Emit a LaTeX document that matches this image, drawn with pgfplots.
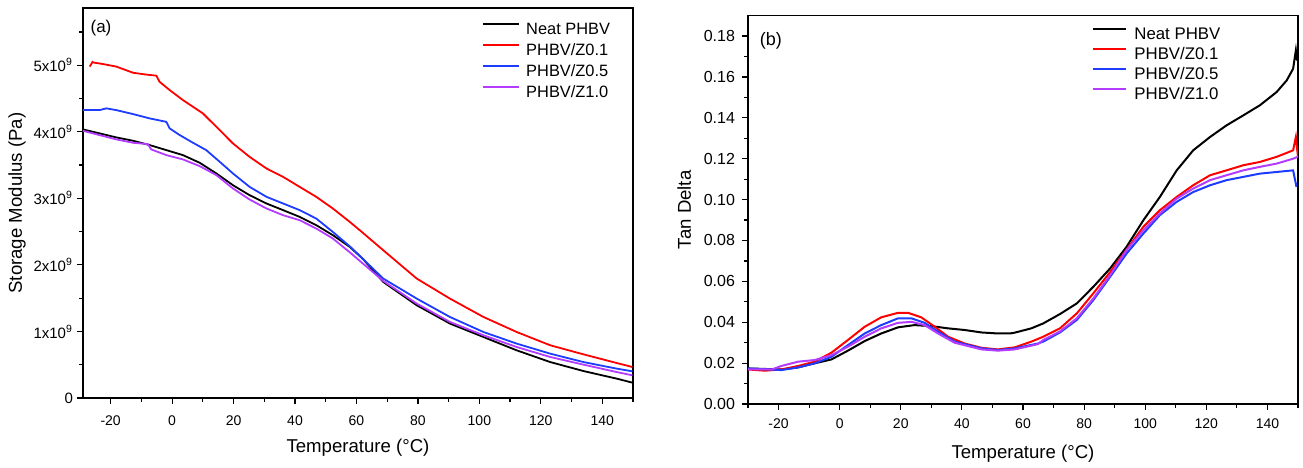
\documentclass[border=0pt]{standalone}
\usepackage{fontspec}
\setmainfont{Liberation Sans}
\usepackage{pgfplots}
\pgfplotsset{compat=1.18}
\definecolor{cblue}{RGB}{30,60,255}
\definecolor{cpurple}{RGB}{180,60,255}
\pgfplotsset{
  dma/.style={
    scale only axis,
    scaled x ticks=false, scaled y ticks=false,
    axis line style={line width=0.7pt},
    tick align=outside, tick pos=left,
    major tick length=3pt, minor tick length=1.8pt,
    every tick/.append style={black, line width=0.6pt},
    every minor tick/.append style={black, line width=0.6pt},
    xlabel style={font=\fontsize{9.3}{11}\selectfont, at={(axis description cs:0.5,-0.128)}, anchor=center},
    ylabel style={font=\fontsize{9.3}{11}\selectfont, anchor=center},
    legend image code/.code={\draw[##1] (0pt,2.8pt) -- (18pt,2.8pt);},
    legend cell align=left,
  }
}
\begin{document}
\begin{tikzpicture}
\path[use as bounding box] (-41.5pt,-34.5pt) rectangle (610pt,199pt);
% ---------------- (a) ----------------
\begin{axis}[dma,
  at={(0pt,0pt)}, anchor=south west,
  width=275pt, height=195pt,
  xmin=-29, xmax=150, ymin=0, ymax=5.86e9,
  xtick={-20,0,20,40,60,80,100,120,140},
  xticklabels={-20,0,20,40,60,80,100,120,140},
  minor xtick={-10,10,30,50,70,90,110,130,150},
  ytick={0,1e9,2e9,3e9,4e9,5e9},
  yticklabels={0,1x10\textsuperscript{9},2x10\textsuperscript{9},3x10\textsuperscript{9},4x10\textsuperscript{9},5x10\textsuperscript{9}},
  minor ytick={0.5e9,1.5e9,2.5e9,3.5e9,4.5e9,5.5e9},
  x tick label style={font=\fontsize{7}{8}\selectfont, yshift=-2.5pt},
  y tick label style={font=\fontsize{7.5}{8}\selectfont, xshift=1.5pt},
  xlabel={Temperature (°C)},
  ylabel={Storage Modulus (Pa)},
  ylabel style={at={(axis description cs:-0.12,0.5)}},
  legend style={draw=none, fill=none, inner sep=0pt, row sep=0pt, column sep=3pt,
    at={(axis description cs:0.7255,0.9723)}, anchor=north west,
    font=\fontsize{8.2}{9}\selectfont,
    nodes={inner xsep=0pt, inner ysep=0pt, text height=7.5pt, text depth=3pt}},
]
\addplot[black, line width=0.9pt] coordinates {
(-29,4.036e9)(-23.6,3.976e9)(-18.2,3.916e9)(-12.7,3.865e9)(-7.3,3.800e9)(-1.9,3.725e9)
(3.5,3.650e9)(9.0,3.534e9)(14.4,3.374e9)(19.8,3.198e9)(25.2,3.048e9)(30.7,2.923e9)
(36.1,2.823e9)(41.5,2.722e9)(46.9,2.597e9)(52.3,2.447e9)(57.8,2.271e9)(62.1,2.09e9)
(68.7,1.744e9)(79.6,1.394e9)(90.4,1.119e9)(101.3,0.917e9)(112.1,0.717e9)(123.0,0.541e9)
(133.8,0.406e9)(144.6,0.292e9)(149.8,0.231e9)};
\addlegendentry{Neat PHBV}
\addplot[red, line width=0.9pt] coordinates {
(-26.8,4.98e9)(-25.9,5.05e9)(-25.5,5.04e9)(-22.5,5.018e9)(-18.2,4.98e9)(-12.7,4.887e9)
(-8.5,4.86e9)(-5.1,4.843e9)(-4.1,4.752e9)(-0.8,4.627e9)(3.5,4.477e9)(6.8,4.376e9)
(10.0,4.277e9)(14.4,4.075e9)(19.8,3.825e9)(25.2,3.624e9)(30.7,3.449e9)(36.1,3.323e9)
(41.5,3.173e9)(46.9,3.023e9)(52.3,2.848e9)(57.8,2.647e9)(62.1,2.481e9)(68.7,2.221e9)
(79.6,1.795e9)(90.4,1.494e9)(101.3,1.218e9)(112.1,0.993e9)(123.0,0.793e9)(133.8,0.657e9)
(144.6,0.527e9)(149.8,0.466e9)};
\addlegendentry{PHBV/Z0.1}
\addplot[cblue, line width=0.9pt] coordinates {
(-29,4.326e9)(-23.6,4.326e9)(-21.4,4.352e9)(-18.2,4.326e9)(-12.7,4.266e9)(-7.3,4.201e9)
(-1.9,4.150e9)(-0.8,4.051e9)(2.5,3.950e9)(6.8,3.835e9)(11.1,3.725e9)(15.5,3.549e9)
(19.8,3.374e9)(25.2,3.173e9)(30.7,3.023e9)(36.1,2.923e9)(41.5,2.823e9)(46.9,2.697e9)
(52.3,2.496e9)(57.8,2.28e9)(62.1,2.09e9)(68.7,1.795e9)(79.6,1.494e9)(90.4,1.218e9)
(101.3,0.992e9)(112.1,0.818e9)(123.0,0.667e9)(133.8,0.541e9)(144.6,0.442e9)(149.8,0.401e9)};
\addlegendentry{PHBV/Z0.5}
\addplot[cpurple, line width=0.9pt] coordinates {
(-29,4.015e9)(-23.6,3.95e9)(-18.2,3.886e9)(-12.7,3.835e9)(-7.9,3.815e9)(-6.8,3.735e9)
(-1.9,3.65e9)(3.5,3.585e9)(9.0,3.484e9)(14.4,3.349e9)(19.8,3.149e9)(25.2,2.983e9)
(30.7,2.848e9)(36.1,2.747e9)(41.5,2.672e9)(46.9,2.547e9)(52.3,2.397e9)(57.8,2.19e9)
(62.1,2.02e9)(68.7,1.759e9)(79.6,1.419e9)(90.4,1.143e9)(101.3,0.943e9)(112.1,0.767e9)
(123.0,0.617e9)(133.8,0.502e9)(144.6,0.391e9)(149.8,0.341e9)};
\addlegendentry{PHBV/Z1.0}
\node[font=\fontsize{8.5}{10}\selectfont] at (axis description cs:0.0327,0.9487) {(a)};
\end{axis}
% ---------------- (b) ----------------
\begin{axis}[dma,
  at={(332.5pt,-3pt)}, anchor=south west,
  width=275pt, height=194.2pt,
  xmin=-30, xmax=150, ymin=0, ymax=0.19,
  xtick={-20,0,20,40,60,80,100,120,140},
  xticklabels={-20,0,20,40,60,80,100,120,140},
  minor xtick={-30,-10,10,30,50,70,90,110,130,150},
  ytick={0,0.02,0.04,0.06,0.08,0.10,0.12,0.14,0.16,0.18},
  yticklabels={0.00,0.02,0.04,0.06,0.08,0.10,0.12,0.14,0.16,0.18},
  minor ytick={0.01,0.03,0.05,0.07,0.09,0.11,0.13,0.15,0.17},
  x tick label style={font=\fontsize{7}{8}\selectfont, yshift=-1pt},
  y tick label style={font=\fontsize{8}{9}\selectfont},
  xlabel={Temperature (°C)},
  ylabel={Tan Delta},
  ylabel style={at={(axis description cs:-0.116,0.5)}},
  legend style={draw=none, fill=none, inner sep=0pt, row sep=0pt, column sep=3.5pt,
    at={(axis description cs:0.6255,0.9774)}, anchor=north west,
    font=\fontsize{8.4}{9}\selectfont,
    nodes={inner xsep=0pt, inner ysep=0pt, text height=7.2pt, text depth=2.8pt}},
  legend image code/.code={\draw[#1] (0pt,2.9pt) -- (16.5pt,2.9pt);},
]
\addplot[black, line width=1.0pt] coordinates {
(-30,0.0174)(-19.1,0.0169)(-13.6,0.0179)(-8.2,0.0199)(-2.7,0.0218)(2.7,0.0261)(8.2,0.0308)
(13.6,0.0345)(19.1,0.0375)(24.5,0.0386)(30,0.0381)(35.5,0.0370)(40.9,0.0362)(46.4,0.0350)
(51.8,0.0345)(55.7,0.0345)(57.3,0.0349)(62.7,0.0370)(66.6,0.0394)(72.1,0.0440)(77.6,0.0492)
(83,0.0573)(88.5,0.0663)(93.9,0.0769)(99.4,0.0899)(104.8,0.1013)(110.3,0.1143)(115.7,0.1241)
(121.2,0.1306)(126.6,0.1363)(132.1,0.1412)(137.5,0.1461)(143,0.1526)(146.3,0.1583)
(148.4,0.164)(149.3,0.173)(149.7,0.168)};
\addlegendentry{Neat PHBV}
\addplot[red, line width=1.0pt] coordinates {
(-30,0.0169)(-24.5,0.0163)(-19.1,0.0169)(-13.6,0.0186)(-8.2,0.0207)(-2.7,0.0251)(2.7,0.0313)
(8.2,0.0378)(13.6,0.0424)(19.1,0.0446)(22.4,0.0446)(26.7,0.0424)(31.1,0.0378)(35.5,0.0329)
(40.9,0.0296)(46.4,0.0275)(51.8,0.0267)(57.3,0.0277)(62.7,0.0305)(66.6,0.0329)(72.1,0.0370)
(77.6,0.0443)(83,0.0541)(88.5,0.0645)(93.9,0.0755)(99.4,0.0867)(104.8,0.0948)(110.3,0.1013)
(115.7,0.1070)(121.2,0.1119)(126.6,0.1143)(132.1,0.1168)(137.5,0.1184)(143,0.1209)
(148.4,0.1241)(149.3,0.1306)(150,0.121)};
\addlegendentry{PHBV/Z0.1}
\addplot[cblue, line width=1.0pt] coordinates {
(-30,0.0174)(-19.1,0.0166)(-13.6,0.0179)(-8.2,0.0199)(-2.7,0.0231)(2.7,0.0288)(8.2,0.0345)
(13.6,0.0386)(19.1,0.0419)(23.5,0.0419)(27.8,0.0397)(32.2,0.0354)(37.6,0.0305)(46.4,0.0272)
(51.8,0.0264)(57.3,0.0272)(64.9,0.0296)(66.6,0.0305)(72.1,0.0350)(77.6,0.0411)(83,0.0508)
(88.5,0.0622)(93.9,0.0736)(99.4,0.0834)(104.8,0.0924)(110.3,0.0989)(115.7,0.1037)
(121.2,0.1070)(126.6,0.1095)(132.1,0.1111)(137.5,0.1127)(143,0.1135)(148.4,0.1143)(149.5,0.1062)};
\addlegendentry{PHBV/Z0.5}
\addplot[cpurple, line width=1.0pt] coordinates {
(-30,0.0169)(-22,0.0170)(-19.1,0.0186)(-13.6,0.0207)(-8.2,0.0215)(-2.7,0.0239)(2.7,0.0280)
(8.2,0.0329)(13.6,0.0370)(19.1,0.0397)(23.5,0.0402)(27.8,0.0386)(32.2,0.0345)(37.6,0.0300)
(46.4,0.0267)(51.8,0.0261)(57.3,0.0267)(64.9,0.0293)(66.6,0.0313)(72.1,0.0355)(77.6,0.0419)
(83,0.0516)(88.5,0.0630)(93.9,0.0753)(99.4,0.0850)(104.8,0.0932)(110.3,0.1005)(115.7,0.1054)
(121.2,0.1095)(126.6,0.1119)(132.1,0.1143)(137.5,0.1160)(143,0.1176)(148.4,0.1200)(150,0.121)};
\addlegendentry{PHBV/Z1.0}
\node[font=\fontsize{9}{10}\selectfont] at (axis description cs:0.0418,0.9356) {(b)};
\end{axis}
\end{tikzpicture}
\end{document}
